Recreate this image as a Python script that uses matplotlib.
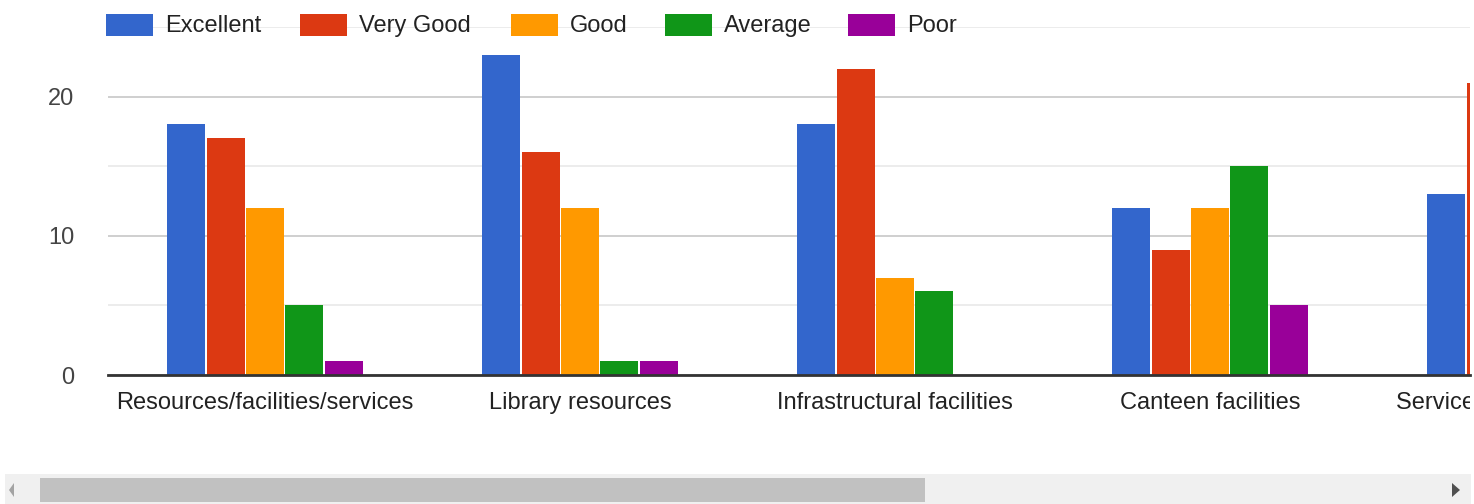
import matplotlib
matplotlib.use("Agg")
import matplotlib.pyplot as plt
import numpy as np
from matplotlib.patches import Rectangle, Polygon
from matplotlib.transforms import Bbox, TransformedBbox, blended_transform_factory

categories = ["Resources/facilities/services", "Library resources",
              "Infrastructural facilities", "Canteen facilities",
              "Service of the office staff"]
series = ["Excellent", "Very Good", "Good", "Average", "Poor"]
excellent = [18, 23, 18, 12, 13]
very_good = [17, 16, 22, 9, 21]
good = [12, 12, 7, 12, 8]
average = [5, 1, 6, 15, 4]
poor = [1, 1, 0, 5, 1]
values = [excellent, very_good, good, average, poor]
colors = ["#3366cc", "#dc3912", "#ff9900", "#109618", "#990099"]

plt.rcParams['font.family'] = ['Liberation Sans', 'DejaVu Sans']

W, H = 1474, 504
fig = plt.figure(figsize=(W / 100, H / 100), dpi=100)
fig.patch.set_facecolor("white")

ax_left, ax_right = 107.5, 1470
ax_bottom, ax_top = 375, 27
ax = fig.add_axes([ax_left / W, 1 - ax_bottom / H, (ax_right - ax_left) / W,
                   (ax_bottom - ax_top) / H])

slot_px = 315.0
x = np.arange(len(categories))
step = 0.125
width = 0.12
for i, (name, vals, col) in enumerate(zip(series, values, colors)):
    ax.bar(x + (i - 2) * step, vals, width=width, color=col, zorder=3,
           linewidth=0)

ax.set_xticks([])
xmax = -0.5 + (ax_right - ax_left) / slot_px
ax.set_xlim(-0.5, xmax)
ax.set_ylim(0, 25)

ax.set_yticks([0, 10, 20])
ax.set_yticks([5, 15, 25], minor=True)
ax.grid(axis='y', which='major', color='#cccccc', linewidth=1.3, zorder=0)
ax.grid(axis='y', which='minor', color='#ebebeb', linewidth=1.3, zorder=0)
ax.tick_params(axis='y', which='both', length=0, pad=24, labelsize=17,
               labelcolor='#444444')

for s in ['top', 'right', 'left']:
    ax.spines[s].set_visible(False)
ax.spines['bottom'].set_color('#333333')
ax.spines['bottom'].set_linewidth(2)
ax.spines['bottom'].set_zorder(5)

# category labels (clipped at the right edge of the plot area, as in the scrolled view)
clip = TransformedBbox(Bbox([[0, 0], [ax_right / W, 1]]), fig.transFigure)
trans = blended_transform_factory(ax.transData, fig.transFigure)
for xi, cat in zip(x, categories):
    t = ax.text(xi, 1 - 403 / H, cat, transform=trans, ha='center',
                va='center', fontsize=17, color='#222222')
    t.set_clip_box(clip)
    t.set_clip_on(True)

# Legend
sw_left = [106, 300, 511, 665, 848]
for name, col, xl in zip(series, colors, sw_left):
    fig.patches.append(Rectangle((xl / W, 1 - 36 / H), 47 / W, 22 / H,
                                 transform=fig.transFigure, facecolor=col,
                                 edgecolor='none', zorder=4))
    fig.text((xl + 59) / W, 1 - 26 / H, name, fontsize=17, color='#222222',
             va='center', ha='left')

# Scrollbar
fig.patches.append(Rectangle((5 / W, 0), (1471 - 5) / W, (504 - 474) / H,
                             transform=fig.transFigure, facecolor='#f0f0f0',
                             edgecolor='none'))
fig.patches.append(Rectangle((40 / W, 2 / H), (925 - 40) / W, (504 - 478 - 2) / H,
                             transform=fig.transFigure, facecolor='#c1c1c1',
                             edgecolor='none'))
fig.patches.append(Polygon([(9 / W, 1 - 490 / H), (14 / W, 1 - 483 / H),
                            (14 / W, 1 - 497 / H)], closed=True,
                           transform=fig.transFigure, facecolor='#a3a3a3',
                           edgecolor='none'))
fig.patches.append(Polygon([(1460 / W, 1 - 490 / H), (1452 / W, 1 - 483 / H),
                            (1452 / W, 1 - 497 / H)], closed=True,
                           transform=fig.transFigure, facecolor='#505050',
                           edgecolor='none'))

fig.savefig("out.png", dpi=100, facecolor="white")
